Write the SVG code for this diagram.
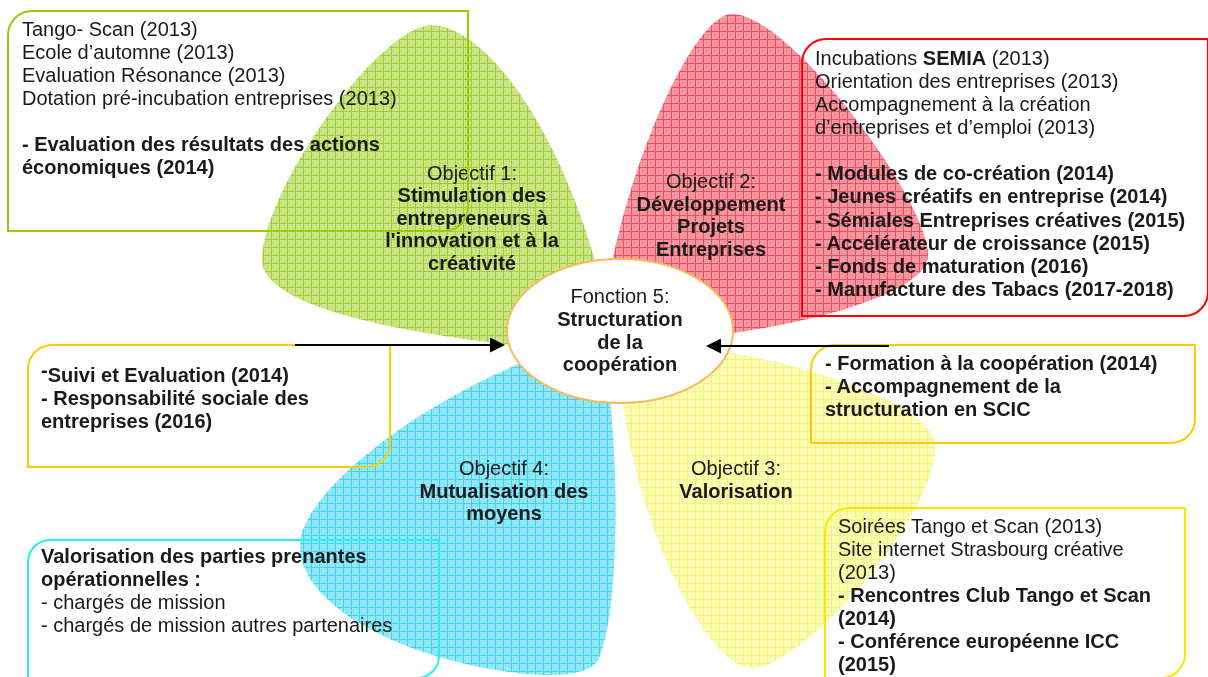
<svg xmlns="http://www.w3.org/2000/svg" width="1208" height="677" viewBox="0 0 1208 677">
<style>
text{font-family:"Liberation Sans",Arial,sans-serif;font-size:20px;fill:#1a1a1a}
.b{font-weight:bold}
.c{text-anchor:middle}
.petal{mix-blend-mode:multiply}
.box{fill:none;stroke-width:2}
.conn{stroke:#000;stroke-width:2;fill:none}
</style>
<defs>
<pattern id="pg" width="8" height="8" patternUnits="userSpaceOnUse"><rect width="8" height="8" fill="#cbe483"/><path d="M7.5,0V8M0,7.5H8" stroke="#a0ce36" stroke-width="1"/></pattern>
<pattern id="pr" width="8" height="8" patternUnits="userSpaceOnUse"><rect width="8" height="8" fill="#f3969f"/><path d="M7.5,0V8M0,7.5H8" stroke="#ea4e60" stroke-width="1"/></pattern>
<pattern id="pb" width="8" height="8" patternUnits="userSpaceOnUse"><rect width="8" height="8" fill="#91e7f8"/><path d="M7.5,0V8M0,7.5H8" stroke="#40d3ee" stroke-width="1"/></pattern>
<pattern id="py" width="8" height="8" patternUnits="userSpaceOnUse"><rect width="8" height="8" fill="#fbfbb2"/><path d="M7.5,0V8M0,7.5H8" stroke="#f3f380" stroke-width="1"/></pattern>
<marker id="ah" viewBox="0 0 15 15" refX="5" refY="7.5" markerWidth="15" markerHeight="15" markerUnits="userSpaceOnUse" orient="auto"><path d="M0,0L15,7.5L0,15Z" fill="#000"/></marker>
</defs>

<g id="petal-objectif3">
<path class="petal" d="M620,340 C760,345 935,400 935,445 C940,510 805,668 752,668 C700,668 615,480 620,340Z" fill="url(#py)"/>
<text class="c" x="736" y="475">Objectif 3:</text>
<text class="c b" x="736" y="497.5">Valorisation</text>
</g>
<g id="petal-objectif4">
<path class="petal" d="M600,335 C620,420 622,610 598,660 C588,678 540,680 470,665 C380,645 300,600 300,545 C300,490 440,380 600,335Z" fill="url(#pb)"/>
<text class="c" x="504" y="475">Objectif 4:</text>
<text class="c b" x="504" y="497.5">Mutualisation des</text>
<text class="c b" x="504" y="520">moyens</text>
</g>
<g id="petal-objectif2">
<path class="petal" d="M600,345 C610,200 690,14 732,14 C790,14 928,200 928,255 C928,300 760,340 600,345Z" fill="url(#pr)"/>
<text class="c" x="711" y="188">Objectif 2:</text>
<text class="c b" x="711" y="210.5">Développement</text>
<text class="c b" x="711" y="233">Projets</text>
<text class="c b" x="711" y="256">Entreprises</text>
</g>
<g id="petal-objectif1">
<path class="petal" d="M615,355 C590,180 500,28 432,25 C380,25 262,190 262,260 C262,310 420,340 615,355Z" fill="url(#pg)"/>
<text class="c" x="472" y="180">Objectif 1:</text>
<text class="c b" x="472" y="202">Stimulation des</text>
<text class="c b" x="472" y="224.5">entrepreneurs à</text>
<text class="c b" x="472" y="247">l'innovation et à la</text>
<text class="c b" x="472" y="269.5">créativité</text>
</g>

<g id="box-objectif1">
<path class="box" stroke="#99cc00" d="M8,35 A24,24 0 0 1 32,11 H468 V207 A24,24 0 0 1 444,231 H8Z"/>
<text x="22" y="36">Tango- Scan (2013)</text>
<text x="22" y="59">Ecole d’automne (2013)</text>
<text x="22" y="82">Evaluation Résonance (2013)</text>
<text x="22" y="105">Dotation pré-incubation entreprises (2013)</text>
<text class="b" x="22" y="151">- Evaluation des résultats des actions</text>
<text class="b" x="22" y="174">économiques (2014)</text>
</g>

<g id="box-objectif2">
<path class="box" stroke="#ff0000" d="M802,63 A24,24 0 0 1 826,39 H1208 V292 A24,24 0 0 1 1184,316 H802Z"/>
<text x="815" y="65">Incubations <tspan class="b">SEMIA</tspan> (2013)</text>
<text x="815" y="88">Orientation des entreprises (2013)</text>
<text x="815" y="111">Accompagnement à la création</text>
<text x="815" y="134">d’entreprises et d’emploi (2013)</text>
<text class="b" x="815" y="180">- Modules de co-création (2014)</text>
<text class="b" x="815" y="203">- Jeunes créatifs en entreprise (2014)</text>
<text class="b" x="815" y="226.5">- Sémiales Entreprises créatives (2015)</text>
<text class="b" x="815" y="249.5">- Accélérateur de croissance (2015)</text>
<text class="b" x="815" y="272.5">- Fonds de maturation (2016)</text>
<text class="b" x="815" y="296">- Manufacture des Tabacs (2017-2018)</text>
</g>

<g id="box-suivi">
<path class="box" stroke="#ffcc00" d="M28,369 A24,24 0 0 1 52,345 H390 V443 A24,24 0 0 1 366,467 H28Z"/>
<text class="b" x="41" y="382"><tspan dy="-5">-</tspan><tspan dy="5">Suivi et Evaluation (2014)</tspan></text>
<text class="b" x="41" y="405">- Responsabilité sociale des</text>
<text class="b" x="41" y="427.5">entreprises (2016)</text>
</g>

<g id="box-objectif4">
<path class="box" stroke="#22f0f8" d="M28,562 A22,22 0 0 1 50,540 H439 V656 A22,22 0 0 1 417,678 H28Z"/>
<text class="b" x="41" y="563">Valorisation des parties prenantes</text>
<text class="b" x="41" y="586">opérationnelles :</text>
<text x="41" y="609">- chargés de mission</text>
<text x="41" y="632">- chargés de mission autres partenaires</text>
</g>

<g id="box-formation">
<path class="box" stroke="#ffcc00" d="M811,369 A24,24 0 0 1 835,345 H1195 V419 A24,24 0 0 1 1171,443 H811Z"/>
<text class="b" x="825" y="370">- Formation à la coopération (2014)</text>
<text class="b" x="825" y="393">- Accompagnement de la</text>
<text class="b" x="825" y="416">structuration en SCIC</text>
</g>

<g id="box-objectif3">
<path class="box" stroke="#f8e800" d="M825,532 A24,24 0 0 1 849,508 H1185 V654 A24,24 0 0 1 1161,678 H825Z"/>
<text x="838" y="533">Soirées Tango et Scan (2013)</text>
<text x="838" y="556">Site internet Strasbourg créative</text>
<text x="838" y="578.5">(2013)</text>
<text class="b" x="838" y="601.5">- Rencontres Club Tango et Scan</text>
<text class="b" x="838" y="624.5">(2014)</text>
<text class="b" x="838" y="647.5">- Conférence européenne ICC</text>
<text class="b" x="838" y="670.5">(2015)</text>
</g>

<g id="fonction5">
<ellipse cx="620" cy="331" rx="113" ry="72" fill="#fff" stroke="#f6bb5c" stroke-width="2"/>
<text class="c" x="620" y="303">Fonction 5:</text>
<text class="c b" x="620" y="326">Structuration</text>
<text class="c b" x="620" y="348.5">de la</text>
<text class="c b" x="620" y="371">coopération</text>
</g>

<g id="connectors">
<line class="conn" x1="295" y1="345" x2="495" y2="345" marker-end="url(#ah)"/>
<line class="conn" x1="889" y1="346" x2="716" y2="346" marker-end="url(#ah)"/>
</g>
</svg>
